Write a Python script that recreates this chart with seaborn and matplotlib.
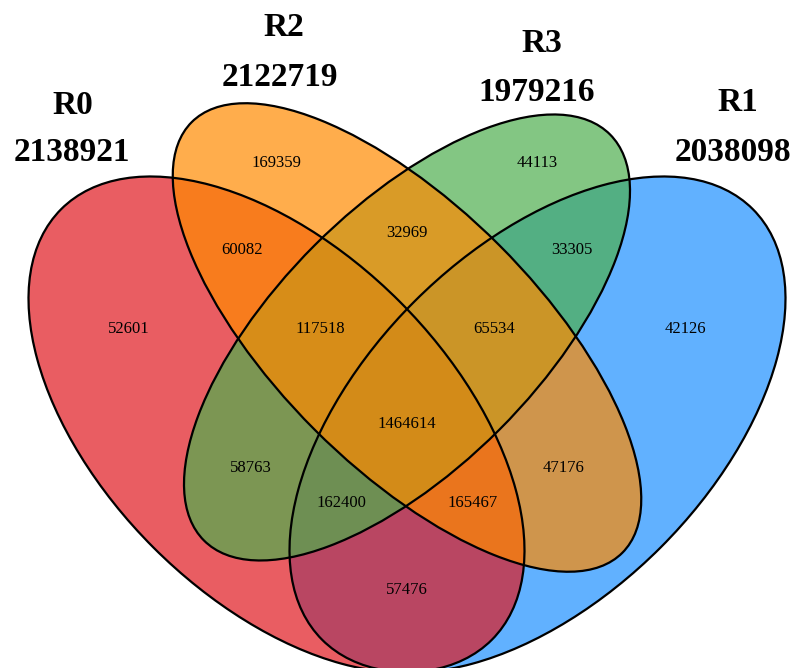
import matplotlib
matplotlib.use("Agg")
import matplotlib.pyplot as plt
from matplotlib.patches import Ellipse
import seaborn as sns

# set names and totals
sets = ["R0", "R1", "R2", "R3"]
totals = [2138921, 2038098, 2122719, 1979216]

# region keys: which sets (R0,R1,R2,R3) the region belongs to
regions = ["1000", "0010", "0001", "0100",
           "1010", "0011", "0101",
           "1011", "0111", "1111",
           "1001", "0110", "1101", "1110", "1100"]
counts = [52601, 169359, 44113, 42126,
          60082, 32969, 33305,
          117518, 65534, 1464614,
          58763, 47176, 162400, 165467, 57476]

# layout (unit square, like VennDiagram draw.quad.venn)
ellipses = {
    "R0": dict(xy=(0.35, 0.47), w=0.70, h=0.40, ang=135),
    "R1": dict(xy=(0.65, 0.47), w=0.70, h=0.40, ang=45),
    "R2": dict(xy=(0.50, 0.57), w=0.70, h=0.30, ang=135),
    "R3": dict(xy=(0.50, 0.57), w=0.66, h=0.30, ang=45),
}
colores = {"R0": "#E0191F", "R1": "#1E90FF", "R2": "#FF8A00", "R3": "#4EAF4E"}
orden = ["R1", "R0", "R3", "R2"]

pos_regiones = {
    "1000": (0.18, 0.58), "0010": (0.35, 0.77), "0001": (0.65, 0.77), "0100": (0.82, 0.58),
    "1010": (0.31, 0.67), "0011": (0.50, 0.69), "0101": (0.69, 0.67),
    "1011": (0.40, 0.58), "0111": (0.60, 0.58), "1111": (0.50, 0.47),
    "1001": (0.32, 0.42), "0110": (0.68, 0.42), "1101": (0.425, 0.38),
    "1110": (0.575, 0.38), "1100": (0.50, 0.28),
}
pos_titulos = {
    "R0": ((0.116, 0.837), (0.115, 0.783)),
    "R1": ((0.880, 0.840), (0.875, 0.783)),
    "R2": ((0.358, 0.926), (0.354, 0.869)),
    "R3": ((0.655, 0.908), (0.649, 0.852)),
}

sns.set_style("white")
plt.rcParams["font.family"] = ["Liberation Serif", "DejaVu Serif"]

fig = plt.figure(figsize=(7.98, 6.68), dpi=100)
ax = fig.add_axes([0, 0, 1, 1])

# rellenos con transparencia
for s in orden:
    e = ellipses[s]
    ax.add_patch(Ellipse(e["xy"], e["w"], e["h"], angle=e["ang"],
                         facecolor=colores[s], alpha=0.7, edgecolor="none"))
# bordes encima
for s in orden:
    e = ellipses[s]
    ax.add_patch(Ellipse(e["xy"], e["w"], e["h"], angle=e["ang"],
                         fill=False, edgecolor="black", linewidth=1.6))

for r, c in zip(regions, counts):
    x, y = pos_regiones[r]
    ax.text(x, y, str(c), ha="center", va="center", fontsize=12, color="black")

for s, t in zip(sets, totals):
    (x1, y1), (x2, y2) = pos_titulos[s]
    ax.text(x1, y1, s, ha="center", va="center", fontsize=24, fontweight="bold", color="black")
    ax.text(x2, y2, str(t), ha="center", va="center", fontsize=24, fontweight="bold", color="black")

ax.set_xlim(0.0322, 0.9494)
ax.set_ylim(0.1901, 0.9579)
ax.set_aspect("equal")
ax.axis("off")

fig.savefig("out.png", dpi=100)
